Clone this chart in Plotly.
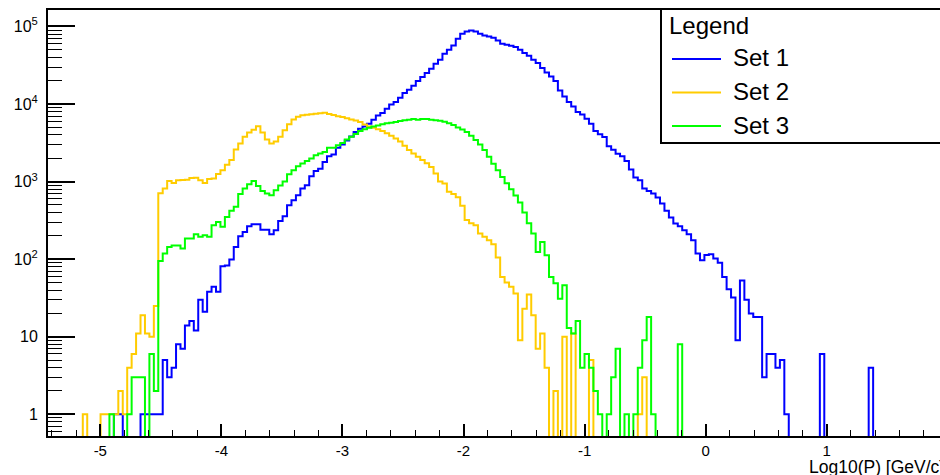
import numpy as np
import plotly.graph_objects as go

# ---------------- data (histogram bin contents) ----------------
BIN_START = -5.438
BIN_WIDTH = 0.036673
N_BINS = 204

set1 = [0, 0, 0, 0, 0, 0, 0, 0, 0, 0,
        0, 0, 0, 0, 0, 1, 1, 0, 0, 0,
        0, 1, 1, 1, 1, 1, 5, 3, 4, 8,
        7, 14, 16, 12, 30, 21, 38, 44, 38, 81,
        83, 99, 144, 197, 224, 266, 282, 282, 240, 240,
        210, 236, 311, 357, 495, 574, 667, 813, 897, 1170,
        1370, 1470, 1790, 2120, 2240, 2740, 3020, 3400, 3830, 4350,
        4810, 5150, 5580, 6280, 7130, 7640, 8710, 9890, 10600, 12080,
        13840, 15300, 17230, 19760, 22250, 25050, 28500, 33100, 37300, 44500,
        50100, 56900, 69500, 80600, 86300, 88900, 86300, 80600, 76600, 74300,
        71500, 66000, 59800, 58100, 56400, 54200, 50100, 45400, 42000, 37300,
        33700, 29100, 25600, 22700, 19760, 15000, 12550, 10600, 9330, 7890,
        7360, 6480, 5580, 4490, 4070, 3760, 2850, 2580, 2290, 2120,
        1840, 1430, 1130, 1040, 813, 758, 701, 623, 522, 420,
        344, 288, 266, 236, 210, 176, 118, 97, 113, 116,
        102, 90, 59, 41, 32, 9, 53, 30, 20, 18,
        18, 3, 6, 6, 4, 5, 1, 0, 0, 0,
        0, 0, 0, 0, 6, 0, 0, 0, 0, 0,
        0, 0, 0, 0, 0, 4]

set2 = [0, 0, 0, 0, 0, 0, 0, 0, 1, 0,
        0, 0, 1, 1, 1, 1, 2, 1, 4, 6,
        11, 19, 11, 10, 25, 708, 813, 1018, 960, 1040,
        1050, 1060, 1110, 1120, 1040, 960, 1080, 1100, 1250, 1400,
        1650, 1900, 2600, 3100, 3800, 4300, 4650, 5160, 4300, 3500,
        3090, 3300, 3800, 4600, 5500, 6300, 6850, 7150, 7300, 7400,
        7510, 7600, 7700, 7450, 7200, 6950, 6800, 6550, 6300, 6150,
        5850, 5450, 5150, 4950, 4750, 4500, 4200, 3900, 3600, 3300,
        2900, 2550, 2300, 2100, 1900, 1720, 1540, 1270, 1000, 944,
        740, 690, 630, 490, 320, 290, 274, 214, 194, 176,
        156, 105, 59, 50, 44, 36, 9, 23, 35, 19,
        7, 11, 4, 0, 2, 0, 10, 0, 11, 0,
        0, 0, 5, 0, 0, 0, 0, 0, 0, 0,
        0, 0, 0, 1, 3]

set3 = [0, 0, 0, 0, 0, 0, 0, 0, 0, 0,
        0, 0, 0, 0, 1, 0, 0, 0, 1, 3,
        3, 3, 0, 6, 2, 95, 118, 144, 150, 150,
        137, 185, 185, 210, 194, 203, 194, 274, 302, 261,
        350, 420, 473, 690, 813, 924, 1020, 880, 758, 701,
        667, 773, 889, 1000, 1240, 1400, 1580, 1710, 1850, 1980,
        2190, 2300, 2410, 2740, 2740, 2940, 3150, 3480, 3800, 4100,
        4500, 4750, 4950, 5150, 5300, 5500, 5650, 5760, 5870, 6040,
        6160, 6290, 6410, 6290, 6410, 6410, 6290, 6200, 6100, 5900,
        5650, 5350, 5000, 4700, 4350, 3900, 3450, 3000, 2550, 2100,
        1700, 1400, 1150, 950, 800, 660, 540, 400, 290, 214,
        124, 167, 112, 59, 49, 31, 46, 13, 11, 16,
        4, 6, 4, 2, 1, 0, 1, 3, 7, 0,
        1, 0, 1, 4, 9, 18, 1, 0, 0, 0,
        0, 0, 8]

series_names = ["Set 1", "Set 2", "Set 3"]
series_colors = ["#0000ff", "#ffcc00", "#00ff00"]

x_tick_vals = [-5, -4, -3, -2, -1, 0, 1]
x_tick_text = ["-5", "-4", "-3", "-2", "-1", "0", "1"]
y_tick_vals = [1, 10, 100, 1000, 10000, 100000]
y_tick_text = ["1", "10", "10<sup>2</sup>", "10<sup>3</sup>", "10<sup>4</sup>", "10<sup>5</sup>"]
x_title = "Log10(P) [GeV/c]"
legend_title = "Legend"

# ---------------- geometry ----------------
W, H = 940, 475
ML, MR, MT, MB = 48, 0, 10, 39
PW, PH = W - ML - MR, H - MT - MB
X_RANGE = [-5.432, 1.9355]
Y_RANGE = [-0.2794, 5.2125]
FONT = "Liberation Sans, Arial, Helvetica, sans-serif"


def px_x(p):
    return (p - ML) / PW


def px_y(p):
    return (H - MB - p) / PH


edges = BIN_START + BIN_WIDTH * np.arange(N_BINS + 1)
floor_val = 0.3  # empty bins drawn below the axis minimum (clipped, like ROOT)

fig = go.Figure()
for name, color, vals in zip(series_names, series_colors, [set1, set2, set3]):
    v = np.zeros(N_BINS)
    v[:len(vals)] = vals
    y = np.where(v > 0, v, floor_val)
    y = np.append(y, y[-1])
    fig.add_trace(go.Scatter(
        x=edges, y=y, mode="lines", name=name,
        line=dict(color=color, width=2, shape="hv"),
        showlegend=False, hoverinfo="skip"))

minor_y = []
for d in range(-1, 6):
    for m in range(2, 10):
        val = m * 10.0 ** d
        if 10 ** Y_RANGE[0] < val < 10 ** Y_RANGE[1]:
            minor_y.append(val)

fig.update_layout(
    width=W, height=H,
    margin=dict(l=ML, r=MR, t=MT, b=MB, pad=0),
    paper_bgcolor="white", plot_bgcolor="white",
    font=dict(family=FONT, color="black", size=15),
    xaxis=dict(
        range=X_RANGE, showgrid=False, zeroline=False,
        showline=True, linecolor="black", linewidth=2, mirror=True,
        ticks="inside", ticklen=12, tickwidth=1.5, tickcolor="black",
        tickmode="array", tickvals=x_tick_vals, ticktext=x_tick_text,
        tickfont=dict(family=FONT, size=15, color="black"),
        minor=dict(tickmode="linear", tick0=0, dtick=0.2, ticks="inside",
                   ticklen=6, tickwidth=1.2, tickcolor="black", showgrid=False),
    ),
    yaxis=dict(
        type="log", range=Y_RANGE, showgrid=False, zeroline=False,
        showline=True, linecolor="black", linewidth=2,
        ticks="inside", ticklen=27, tickwidth=1.5, tickcolor="black",
        tickmode="array", tickvals=y_tick_vals, ticktext=y_tick_text,
        tickfont=dict(family=FONT, size=16, color="black"),
        ticklabelstandoff=5,
        minor=dict(tickmode="array", tickvals=minor_y, ticks="inside",
                   ticklen=14, tickwidth=1.2, tickcolor="black", showgrid=False),
    ),
)

# x-axis title (right aligned, runs off the canvas like the original)
fig.add_annotation(
    text=x_title, xref="paper", yref="paper",
    x=px_x(946), y=px_y(467), xanchor="right", yanchor="middle",
    showarrow=False, font=dict(family=FONT, size=17.5, color="black"))

# legend box (ROOT TLegend style)
fig.add_shape(type="rect", xref="paper", yref="paper",
              x0=px_x(661), x1=px_x(990), y0=px_y(143), y1=px_y(9),
              line=dict(color="black", width=2), fillcolor="white", layer="above")
fig.add_annotation(
    text=legend_title, xref="paper", yref="paper",
    x=px_x(667), y=px_y(26), xanchor="left", yanchor="middle",
    showarrow=False, font=dict(family=FONT, size=24, color="black"))
legend_rows = [59, 92.5, 126]
for name, color, ry in zip(series_names, series_colors, legend_rows):
    fig.add_shape(type="line", xref="paper", yref="paper",
                  x0=px_x(672), x1=px_x(721), y0=px_y(ry), y1=px_y(ry),
                  line=dict(color=color, width=2), layer="above")
    fig.add_annotation(
        text=name, xref="paper", yref="paper",
        x=px_x(731), y=px_y(ry - 1), xanchor="left", yanchor="middle",
        showarrow=False, font=dict(family=FONT, size=24, color="black"))

fig.write_html("out.html",
               post_script="document.documentElement.style.overflow='hidden';"
                           "document.body.style.overflow='hidden';")
